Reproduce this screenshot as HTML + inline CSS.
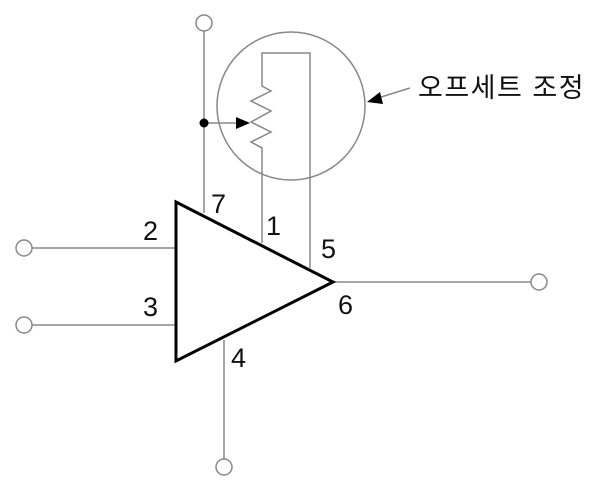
<!DOCTYPE html>
<html><head><meta charset="utf-8"><style>
html,body{margin:0;padding:0;background:#fff;}
svg{display:block;}
text{font-family:"Liberation Sans","Noto Sans CJK KR",sans-serif;fill:#111;}
</style></head><body>
<svg width="600" height="491" viewBox="0 0 600 491" xmlns="http://www.w3.org/2000/svg">
<g stroke="#888" stroke-width="1.5" fill="none">
<circle cx="291" cy="106" r="74"/>
<line x1="32" y1="248" x2="176" y2="248"/>
<line x1="32" y1="325" x2="176" y2="325"/>
<line x1="333" y1="282" x2="531" y2="282"/>
<line x1="224" y1="340" x2="224" y2="459"/>
<line x1="204" y1="31" x2="204" y2="213"/>
<line x1="204" y1="123" x2="238" y2="123"/>
<polyline points="262,243 262,148 251,142 271,132 251,122 271,111 251,101 271,91 262,86 262,53 310,53 310,268"/>
<line x1="410" y1="88" x2="378" y2="98"/>
<circle cx="24" cy="248" r="8" fill="#fff"/>
<circle cx="24" cy="325" r="8" fill="#fff"/>
<circle cx="539" cy="282" r="8" fill="#fff"/>
<circle cx="224" cy="467" r="8" fill="#fff"/>
<circle cx="204" cy="23" r="8" fill="#fff"/>
</g>
<circle cx="204" cy="123" r="4.5" fill="#000"/>
<polygon points="250,123 236,117 236,129" fill="#000"/>
<polygon points="367,102 380,92 383,104" fill="#000"/>
<polygon points="176,202 333,282 176,361" fill="#fff" stroke="#000" stroke-width="3" stroke-linejoin="miter"/>
<g font-size="27">
<text x="143" y="240">2</text>
<text x="143" y="316">3</text>
<text x="231" y="367">4</text>
<text x="338" y="314">6</text>
<text x="321" y="258">5</text>
<text x="266" y="235">1</text>
<text x="211" y="213">7</text>
</g>
<text x="418" y="97" font-size="27" letter-spacing="1.5">오프세트 조정</text>
</svg>
</body></html>
